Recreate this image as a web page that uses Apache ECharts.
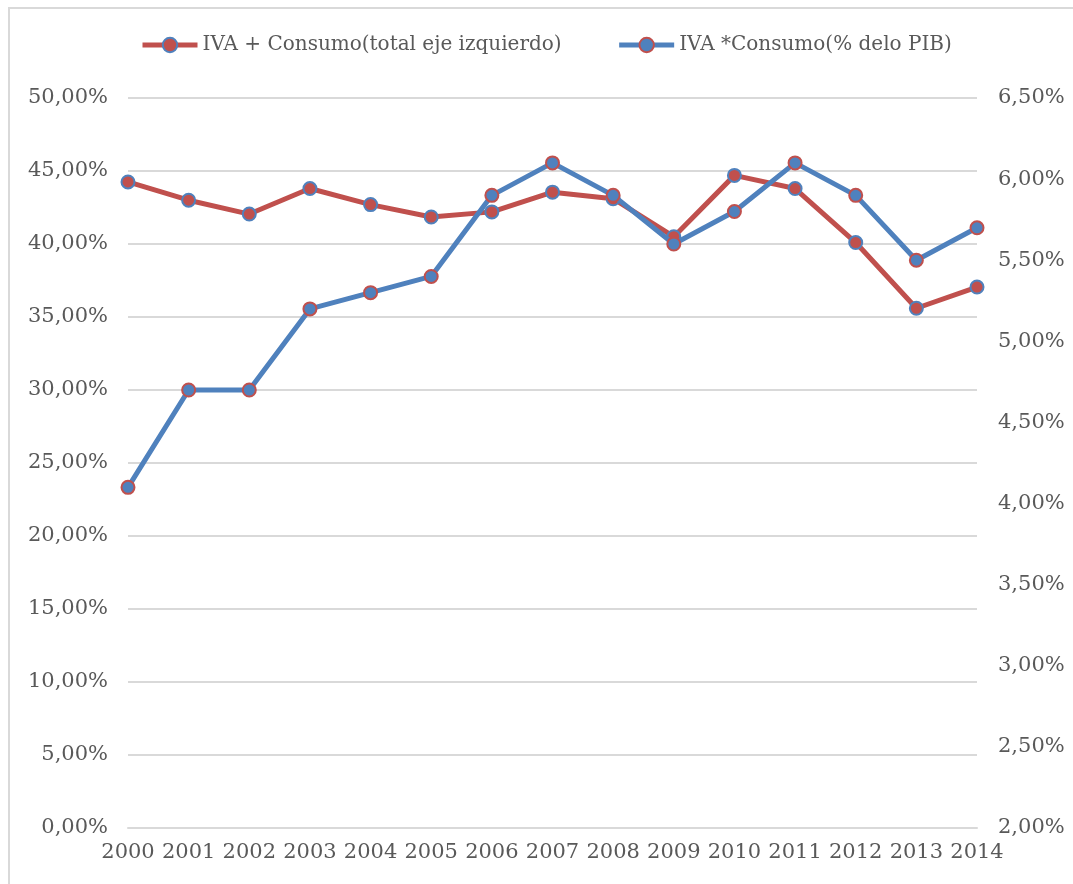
<!DOCTYPE html>
<html>
<head>
<meta charset="utf-8">
<script src="https://cdn.jsdelivr.net/npm/echarts@6/dist/echarts.min.js"></script>
<style>
  html, body { margin: 0; padding: 0; background: #ffffff; }
  #chart { width: 1073px; height: 884px; }
</style>
</head>
<body>
<div id="chart"></div>
<script>
// Years on the category axis
const years = ['2000','2001','2002','2003','2004','2005','2006','2007','2008','2009','2010','2011','2012','2013','2014'];

// IVA + Consumo, total (left axis, %)
const ivaConsumoTotal = [44.25, 43.0, 42.05, 43.8, 42.7, 41.85, 42.2, 43.55, 43.1, 40.5, 44.7, 43.8, 40.1, 35.6, 37.05];

// IVA * Consumo as % of GDP (right axis, %)
const ivaConsumoPib = [4.10, 4.70, 4.70, 5.20, 5.30, 5.40, 5.90, 6.10, 5.90, 5.60, 5.80, 6.10, 5.90, 5.50, 5.70];

const seriesNames = ['IVA + Consumo(total eje izquierdo)', 'IVA *Consumo(% delo PIB)'];

const RED = '#c0504d';
const BLUE = '#4f81bd';
const TEXT = '#595959';
const GRID = '#d9d9d9';
const FONT = '"DejaVu Serif", "Liberation Serif", serif';

const pct = v => v.toFixed(2).replace('.', ',') + '%';

const chart = echarts.init(document.getElementById('chart'), null, { renderer: 'canvas' });

chart.setOption({
  backgroundColor: '#ffffff',
  animation: false,
  textStyle: { fontFamily: FONT, color: TEXT },
  graphic: [{
    type: 'rect',
    shape: { x: 9, y: 8, width: 1100, height: 900 },
    style: { fill: 'none', stroke: GRID, lineWidth: 2 },
    silent: true
  }],
  legend: {
    top: 35,
    left: 140,
    padding: 0,
    itemWidth: 55,
    itemHeight: 18,
    itemGap: 55,
    textStyle: { fontFamily: FONT, fontSize: 20, color: TEXT },
    data: [{
      name: seriesNames[0],
      lineStyle: { color: RED, width: 5 },
      itemStyle: { color: RED, borderColor: BLUE, borderWidth: 2 }
    }, {
      name: seriesNames[1],
      lineStyle: { color: BLUE, width: 5 },
      itemStyle: { color: BLUE, borderColor: RED, borderWidth: 2 }
    }]
  },
  grid: { left: 128, right: 96, top: 98, bottom: 56, containLabel: false },
  xAxis: {
    type: 'category',
    data: years,
    boundaryGap: false,
    axisLine: { show: true, lineStyle: { color: GRID, width: 2 } },
    axisTick: { show: false },
    axisLabel: { fontFamily: FONT, fontSize: 21, color: TEXT, margin: 14, interval: 0 },
    splitLine: { show: false }
  },
  yAxis: [{
    type: 'value',
    min: 0, max: 50, interval: 5,
    axisLine: { show: false },
    axisTick: { show: false },
    axisLabel: { fontFamily: FONT, fontSize: 21, color: TEXT, margin: 20, formatter: pct },
    splitLine: { show: true, lineStyle: { color: GRID, width: 2 } }
  }, {
    type: 'value',
    min: 2, max: 6.5, interval: 0.5,
    position: 'right',
    axisLine: { show: false },
    axisTick: { show: false },
    axisLabel: { fontFamily: FONT, fontSize: 21, color: TEXT, margin: 21, formatter: pct },
    splitLine: { show: false }
  }],
  series: [{
    name: seriesNames[0],
    type: 'line',
    yAxisIndex: 0,
    data: ivaConsumoTotal,
    symbol: 'circle',
    symbolSize: 13,
    lineStyle: { color: RED, width: 5 },
    itemStyle: { color: RED, borderColor: BLUE, borderWidth: 2 },
    z: 2
  }, {
    name: seriesNames[1],
    type: 'line',
    yAxisIndex: 1,
    data: ivaConsumoPib,
    symbol: 'circle',
    symbolSize: 13,
    lineStyle: { color: BLUE, width: 5 },
    itemStyle: { color: BLUE, borderColor: RED, borderWidth: 2 },
    z: 3
  }]
});
</script>
</body>
</html>
